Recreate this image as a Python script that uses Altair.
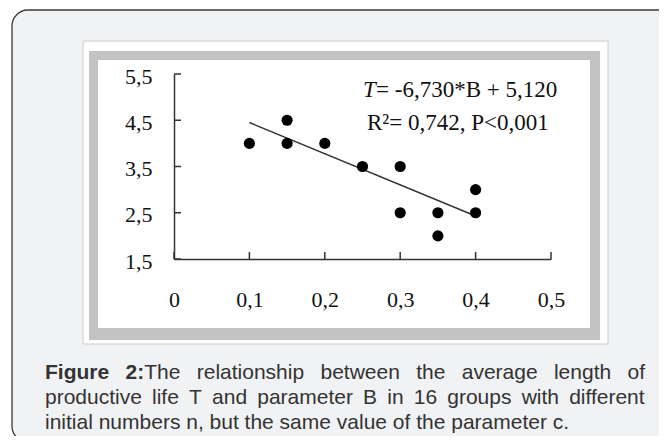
import altair as alt
import pandas as pd

# ---------------- data ----------------
B = [0.10, 0.15, 0.15, 0.20, 0.25, 0.30, 0.30, 0.35, 0.35, 0.40, 0.40]
T = [4.0, 4.5, 4.0, 4.0, 3.5, 3.5, 2.5, 2.5, 2.0, 3.0, 2.5]
fit_B = [0.10, 0.40]
fit_T = [4.45, 2.43]
x_ticks = [0.0, 0.1, 0.2, 0.3, 0.4, 0.5]
y_ticks = [1.5, 2.5, 3.5, 4.5, 5.5]
eq_T = "T"
eq_rest = "= -6,730*B + 5,120"
eq_line2 = "R\u00b2= 0,742, P<0,001"
caption_lines = [
    [[("Figure", True)], [("2:", True), ("The", False)], [("relationship", False)],
     [("between", False)], [("the", False)], [("average", False)], [("length", False)], [("of", False)]],
    [[(w, False)] for w in "productive life T and parameter B in 16 groups with different".split()],
    [[(w, False)] for w in "initial numbers n, but the same value of the parameter c.".split()],
]

# ---------------- layout ----------------
W, H = 377, 185
SVG_W, SVG_H = 651, 428
PAD = {"left": 166, "top": 66, "right": SVG_W - 166 - W, "bottom": SVG_H - 66 - H}
SERIF = "Liberation Serif"
SANS = "Liberation Sans"
CAP_SIZE = 21

# Arial / Liberation Sans advance widths (per em)
REG = {c: .556 for c in "abdeghnopqu0123456789"}
REG.update({"c": .5, "f": .278, "i": .222, "j": .222, "k": .5, "l": .222, "m": .833,
            "r": .333, "s": .5, "t": .278, "v": .5, "w": .722, "x": .5, "y": .5, "z": .5,
            "B": .667, "T": .611, "F": .611, ",": .278, ".": .278, ":": .278, " ": .278})
BOLD = {"F": .611, "i": .278, "g": .611, "u": .611, "r": .389, "e": .556, "2": .556, ":": .333}


def seg_w(text, bold):
    tab = BOLD if bold else REG
    return sum(tab.get(ch, .556) for ch in text) * CAP_SIZE


cap_left, cap_right = -129, 471
cap_base = [305, 330, 355]
rows = []
for li, line in enumerate(caption_lines):
    widths = [sum(seg_w(t, b) for t, b in word) for word in line]
    if li < len(caption_lines) - 1:
        gap = (cap_right - cap_left - sum(widths)) / (len(line) - 1)
    else:
        gap = REG[" "] * CAP_SIZE
    x = cap_left
    for word, wd in zip(line, widths):
        xx = x
        for t, b in word:
            rows.append({"txt": t, "px": xx, "py": cap_base[li], "bold": b})
            xx += seg_w(t, b)
        x += wd + gap
cap_df = pd.DataFrame(rows)

one = alt.Data(values=[{"a": 1}])

x_axis = alt.Axis(title=None, values=x_ticks, grid=False, ticks=False, tickSize=0,
                  domain=True, domainColor="#333", domainWidth=1.5, labelFlush=False,
                  labelFont=SERIF, labelFontSize=22, labelColor="#111", labelPadding=30,
                  labelExpr="datum.value == 0 ? '0' : replace(format(datum.value, '.1f'), '.', ',')",
                  zindex=1)
y_axis = alt.Axis(title=None, values=y_ticks, grid=False, ticks=False, tickSize=0,
                  domain=True, domainColor="#333", domainWidth=1.5, labelFlush=False,
                  labelFont=SERIF, labelFontSize=22, labelColor="#111", labelPadding=22,
                  labelOffset=2,
                  labelExpr="replace(format(datum.value, '.1f'), '.', ',')", zindex=1)
xs = alt.Scale(domain=[0, 0.5], nice=False, zero=False)
ys = alt.Scale(domain=[1.5, 5.5], nice=False, zero=False)


def X(f):
    return alt.X(f"{f}:Q", scale=xs, axis=x_axis)


def Y(f):
    return alt.Y(f"{f}:Q", scale=ys, axis=y_axis)


def box(x1, x2, y1, y2, **kw):
    return alt.Chart(one).mark_rect(**kw).encode(
        x=alt.value(x1), x2=alt.value(x2), y=alt.value(y1), y2=alt.value(y2))


outer = box(-162, 520, -64, 368, fill="#f1f2f4", stroke="#3a3a3a", strokeWidth=1.3, cornerRadius=16)
white_box = box(-91, 434, -33, 270, fill="white", stroke="#cccccc", strokeWidth=1)
gray_frame = box(-85, 426, -23, 266, fill="#c3c3c3")
inner = box(-76, 416, -14, 254, fill="white")

pts = pd.DataFrame({"B": B, "T": T})
fit = pd.DataFrame({"B": fit_B, "T": fit_T})
ytk = pd.DataFrame({"T": y_ticks})
xtk = pd.DataFrame({"B": x_ticks})

ytick_marks = alt.Chart(ytk).mark_rule(color="#333", strokeWidth=1.5).encode(
    y=Y("T"), x=alt.value(0), x2=alt.value(7))
xtick_marks = alt.Chart(xtk).mark_rule(color="#333", strokeWidth=1.5).encode(
    x=X("B"), y=alt.value(H), y2=alt.value(H - 7))
fit_line = alt.Chart(fit).mark_line(color="#333", strokeWidth=1.5).encode(x=X("B"), y=Y("T"))
points = alt.Chart(pts).mark_circle(size=125, color="black", opacity=1).encode(x=X("B"), y=Y("T"))

ann_T = alt.Chart(one).mark_text(text=eq_T, font=SERIF, fontSize=23, fontStyle="italic",
                                 align="left", baseline="alphabetic", color="#111").encode(
    x=alt.value(189), y=alt.value(23))
ann_1 = alt.Chart(one).mark_text(text=eq_rest, font=SERIF, fontSize=23,
                                 align="left", baseline="alphabetic", color="#111").encode(
    x=alt.value(202), y=alt.value(23))
ann_2 = alt.Chart(one).mark_text(text=eq_line2, font=SERIF, fontSize=23,
                                 align="left", baseline="alphabetic", color="#111").encode(
    x=alt.value(193), y=alt.value(56))

cap_reg = alt.Chart(cap_df).transform_filter("!datum.bold").mark_text(
    font=SANS, fontSize=CAP_SIZE, align="left", baseline="alphabetic", color="#333").encode(
    x=alt.X("px:Q", scale=None, axis=None), y=alt.Y("py:Q", scale=None, axis=None), text="txt:N")
cap_bold = alt.Chart(cap_df).transform_filter("datum.bold").mark_text(
    font=SANS, fontSize=CAP_SIZE, fontWeight="bold", align="left", baseline="alphabetic",
    color="#333").encode(
    x=alt.X("px:Q", scale=None, axis=None), y=alt.Y("py:Q", scale=None, axis=None), text="txt:N")

chart = alt.layer(
    outer, white_box, gray_frame, inner,
    ytick_marks, xtick_marks, fit_line, points,
    ann_T, ann_1, ann_2, cap_reg, cap_bold,
).properties(
    width=W, height=H, padding=PAD, background="white",
    autosize=alt.AutoSizeParams(type="none"),
).configure_view(stroke=None)

chart.save("out.html", embed_options={"renderer": "svg", "actions": False})
